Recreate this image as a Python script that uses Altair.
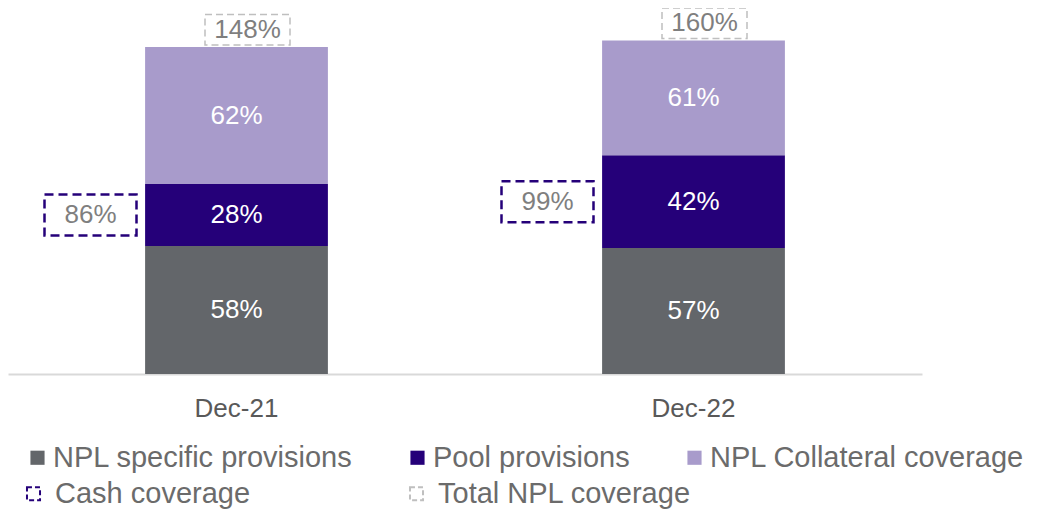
import altair as alt
import pandas as pd

periods = ["Dec-21", "Dec-22"]
series = ["NPL specific provisions", "Pool provisions", "NPL Collateral coverage"]
specific = [58, 57]
pool = [28, 42]
collateral_label = [62, 61]
collateral_bar = [62, 52]   # drawn height
cash_cov = [86, 99]
total_cov = [148, 160]

colors = ["#63666A", "#250079", "#A89BCB"]
FONT = "Liberation Sans"
K = 2.209  # px per unit

rows = []
for i, p in enumerate(periods):
    base = 0
    for s, h, lab in zip(series, [specific[i], pool[i], collateral_bar[i]],
                         [specific[i], pool[i], collateral_label[i]]):
        rows.append({"period": p, "series": s, "y0": base, "y1": base + h,
                     "mid": base + h / 2, "label": f"{lab}%"})
        base += h
seg = pd.DataFrame(rows)

boxes = []
for i, p in enumerate(periods):
    mid = specific[i] + pool[i] / 2
    boxes.append({"period": p, "kind": "Cash coverage", "c": mid,
                  "b0": mid - 20.5 / K, "b1": mid + 20.5 / K, "label": f"{cash_cov[i]}%"})
    top = specific[i] + pool[i] + collateral_bar[i]
    b0 = top + 2 / K
    b1 = b0 + 30.5 / K
    boxes.append({"period": p, "kind": "Total NPL coverage", "c": (b0 + b1) / 2,
                  "b0": b0, "b1": b1, "label": f"{total_cov[i]}%"})
bx = pd.DataFrame(boxes)

xenc = alt.X("period:N", sort=periods,
             scale=alt.Scale(paddingInner=0.6, paddingOuter=0.3),
             axis=alt.Axis(title=None, labelAngle=0, ticks=False, labelFontSize=26,
                           labelFont=FONT, labelColor="#595959", labelPadding=21,
                           domainColor="#D9D9D9", domainWidth=2, grid=False))
yscale = alt.Scale(domain=[0, 366 / K], nice=False)

bars = alt.Chart(seg).mark_bar().encode(
    x=xenc,
    y=alt.Y("y0:Q", scale=yscale, axis=None, stack=None),
    y2="y1:Q",
    fill=alt.Fill("series:N", sort=series,
                  scale=alt.Scale(domain=series, range=colors),
                  legend=alt.Legend(title=None, orient="none", direction="horizontal",
                                    legendX=15, legendY=435, symbolType="square",
                                    symbolSize=200, symbolStrokeWidth=0,
                                    labelFontSize=29, labelFont=FONT, labelColor="#6B6B6B",
                                    columnPadding=50, labelOffset=1, padding=0,
                                    labelLimit=0)),
)

bar_text = alt.Chart(seg).mark_text(color="white", fontSize=26, font=FONT, baseline="middle").encode(
    x=alt.X("period:N", sort=periods),
    y=alt.Y("mid:Q", scale=yscale),
    text="label:N",
)

stroke_scale = alt.Scale(domain=["Cash coverage", "Total NPL coverage"],
                         range=["#250079", "#BFBFBF"])
leg2 = alt.Legend(title=None, orient="none", direction="horizontal",
                  legendX=11, legendY=471, symbolType="square", symbolSize=170,
                  symbolDash=[5, 3], symbolStrokeWidth=2, symbolFillColor="white",
                  labelFontSize=29, labelFont=FONT, labelColor="#6B6B6B",
                  columnPadding=151, labelOffset=7, padding=0, labelLimit=0)

cash = bx[bx.kind == "Cash coverage"]
tot = bx[bx.kind == "Total NPL coverage"]

cash_box = alt.Chart(cash).mark_bar(width=92, xOffset=-146, fill="white", fillOpacity=0,
                                    strokeWidth=2.5, strokeDash=[9, 5]).encode(
    x=alt.X("period:N", sort=periods),
    y=alt.Y("b0:Q", scale=yscale, stack=None),
    y2="b1:Q",
    stroke=alt.Stroke("kind:N", scale=stroke_scale, legend=leg2),
)
cash_text = alt.Chart(cash).mark_text(color="#7F7F7F", fontSize=26, font=FONT,
                                      baseline="middle", xOffset=-146).encode(
    x=alt.X("period:N", sort=periods),
    y=alt.Y("c:Q", scale=yscale),
    text="label:N",
)
tot_box = alt.Chart(tot).mark_bar(width=85, xOffset=11, fill="white", fillOpacity=0,
                                  strokeWidth=1.5, strokeDash=[7, 4]).encode(
    x=alt.X("period:N", sort=periods),
    y=alt.Y("b0:Q", scale=yscale, stack=None),
    y2="b1:Q",
    stroke=alt.Stroke("kind:N", scale=stroke_scale, legend=leg2),
)
tot_text = alt.Chart(tot).mark_text(color="#7F7F7F", fontSize=26, font=FONT,
                                    baseline="middle", xOffset=11).encode(
    x=alt.X("period:N", sort=periods),
    y=alt.Y("c:Q", scale=yscale),
    text="label:N",
)

chart = alt.layer(bars, bar_text, cash_box, cash_text, tot_box, tot_text).properties(
    width=914, height=366,
    autosize=alt.AutoSizeParams(type="none"),
    padding={"left": 0, "top": 0, "right": 132, "bottom": 137},
).configure_view(stroke=None).resolve_scale(stroke="shared")

chart.save("out.html", embed_options={"renderer": "svg", "actions": False})
